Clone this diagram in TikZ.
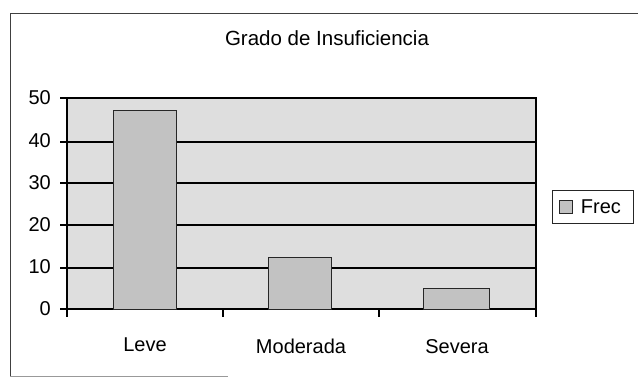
\documentclass[tikz,border=0pt]{standalone}
\usepackage{fontspec}
\setmainfont{Liberation Sans}
\usetikzlibrary{positioning}
\usetikzlibrary{calc}

\begin{document}
\begin{tikzpicture}[x=1pt,y=-1pt]
\tikzstyle{frame line}=[draw=black!75,line width=0.9]
\tikzstyle{grid line}=[draw=black,line width=1.4]
\tikzstyle{axis line}=[draw=black,line width=1.2]
\tikzstyle{bar}=[draw=black!85,line width=1,fill=black!24]
\tikzstyle{tick label}=[anchor=east,inner sep=0,font=\fontsize{20}{24}\selectfont]
\tikzset{
  cat label/.style = {inner sep=0, font=\fontsize{20}{24}\selectfont},
  title node/.style = {inner sep=0, font=\fontsize{20.5}{24}\selectfont},
  legend box/.style = {rectangle, draw=black!85, line width=1, minimum width=81, minimum height=33, inner sep=0},
  legend key/.style = {rectangle, draw=black!85, fill=black!24, minimum size=13, inner sep=0}
}
\useasboundingbox (0,0) rectangle (638,378);

    %%%%%%%%%%%%%%%%%%%%%%%%%% frame
    \draw[frame line] (638,13) -- (10,13) -- (10,376);
    \draw[frame line,draw=black!40] (10,376) -- (228,376);

    \node[title node] (title) at (327,38) {Grado de Insuficiencia};

    %%%%%%%%%%%%%%%%%%%%%%%%%% plot area
    \fill[black!13] (67,98) rectangle (536,309);
       \draw[grid line] (60,142) -- (536,142);
       \draw[grid line] (60,183) -- (536,183);
       \draw[grid line] (60,225) -- (536,225);
    \draw[grid line] (60,268) -- (536,268);
    \draw[axis line] (60,98) -- (536,98) -- (536,317);
    \draw[axis line] (60,309) -- (536,309);
    \draw[axis line] (67,98) -- (67,317);
    \draw[axis line] (223,309) -- (223,317);
    \draw[axis line] (379,309) -- (379,317);

    %%%%%%%%%%%%%%%%%%%%%%%%%% bars
    \draw[bar] (113,309) rectangle (176,110);
    \draw[bar] (268,309) rectangle (331,257);
       \draw[bar] (423,309) rectangle (489,288);

    %%%%%%%%%%%%%%%%%%%%%%%%%% labels
    \node[tick label] (y50) at (51,98) {50};
    \node[tick label] (y40) at (51,141) {40};
    \node[tick label] (y30) at (51,183) {30};
    \node[tick label] (y20) at (51,225) {20};
    \node[tick label] (y10) at (51,267) {10};
    \node[tick label] (y0) at (51,309) {0};

    \node[cat label] (leve) at (145,345) {Leve};
    \node[cat label] (mod) at (301,346) {Moderada};
    \node[cat label] (sev) at (457,347) {Severa};

    %%%%%%%%%%%%%%%%%%%%%%%%%% legend
    \node[legend box] (leg) at (592.5,206.5) {};
    \node[legend key] (key) at (566,207) {};
    \node[cat label] (frec) [right=8 of key] {Frec};
\end{tikzpicture}
\end{document}
